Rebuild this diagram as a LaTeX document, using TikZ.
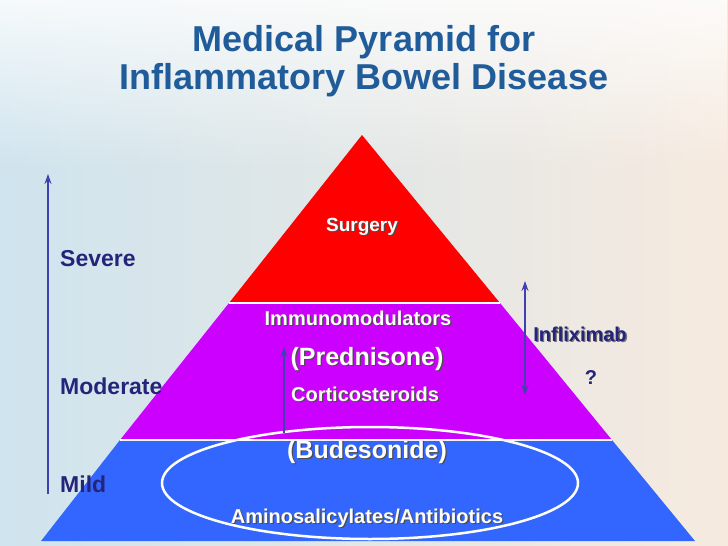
\documentclass[tikz,border=0pt]{standalone}
\usepackage{fontspec}
\setmainfont{Liberation Sans}
\usetikzlibrary{arrows.meta,fadings}
\definecolor{navy}{HTML}{24247A}
\definecolor{ttl}{HTML}{1F5C99}
\definecolor{pred}{HTML}{FF0000}
\definecolor{ppur}{HTML}{CC00FF}
\definecolor{pblu}{HTML}{3366FF}
\definecolor{arr}{HTML}{4040B0}
\definecolor{bgl}{HTML}{CFE4EE}
\definecolor{bgm}{HTML}{DCD6E6}
\definecolor{bgr}{HTML}{F6EADF}
\newcommand{\shtext}[4]{\node[font=\bfseries\fontsize{#3}{#3}\selectfont,text=black!70] at ([xshift=1.3pt,yshift=-1.3pt]#1) {#4};
\node[font=\bfseries\fontsize{#3}{#3}\selectfont,text=white] (#2) at (#1) {#4};}
\begin{document}
\begin{tikzpicture}[x=1pt,y=-1pt,
  lbl/.style={font=\bfseries\fontsize{23}{23}\selectfont,text=navy,anchor=west,inner sep=0pt},
  vline/.style={arr,line width=2.4pt},
  >={Stealth[length=10pt,width=7pt]}]
\useasboundingbox (0,0) rectangle (728,546);
\shade[left color=bgl, middle color=bgm, right color=bgr] (0,0) rectangle (728,546);
\fill[white,path fading=south,opacity=0.8] (0,0) rectangle (728,170);
% pyramid
\fill[pblu] (41,541) -- (695,541) -- (612,440) -- (120,440) -- cycle;
\fill[ppur] (120,440) -- (612,440) -- (500,303) -- (229,303) -- cycle;
\fill[pred] (229,303) -- (500,303) -- (362,135) -- cycle;
\draw[white,line width=1.2pt] (229,303) -- (500,303);
\draw[white,line width=1.2pt] (120,440) -- (612,440);
\draw[white,line width=2.5pt] (370,483) ellipse [x radius=208, y radius=56];
% title
\node[font=\bfseries\fontsize{36}{36}\selectfont,text=ttl] (t1) at (364,42) {Medical Pyramid for};
\node[font=\bfseries\fontsize{36}{36}\selectfont,text=ttl] (t2) at (364,80) {Inflammatory Bowel Disease};
% texts
\shtext{362,227}{surg}{19}{Surgery}
\shtext{358,318}{imm}{20}{Immunomodulators}
\shtext{367,359}{pred}{25}{(Prednisone)}
\shtext{365,394}{cort}{20}{Corticosteroids}
\shtext{367,452}{bud}{25}{(Budesonide)}
\shtext{367,518}{amino}{20}{Aminosalicylates/Antibiotics}
\node[font=\bfseries\fontsize{20}{20}\selectfont,text=black!55] at (581.3,335.3) {Infliximab};
\node[font=\bfseries\fontsize{20}{20}\selectfont,text=navy] (inf) at (580,334) {Infliximab};
\node[font=\bfseries\fontsize{20}{20}\selectfont,text=navy] (q) at (591,378) {?};
\node[lbl] (sev) at (60,259) {Severe};
\node[lbl] (mod) at (60,386) {Moderate};
\node[lbl] (mild) at (60,484) {Mild};
% arrows
\coordinate (a1) at (48,494); \coordinate (a2) at (48,174);
\draw[vline,->] (a1) -- (a2);
\coordinate (b1) at (525,281); \coordinate (b2) at (525,395);
\draw[vline,<->] (b1) -- (b2);
\coordinate (c1) at (284,433); \coordinate (c2) at (284,347);
\draw[vline,->] (c1) -- (c2);
\end{tikzpicture}
\end{document}
